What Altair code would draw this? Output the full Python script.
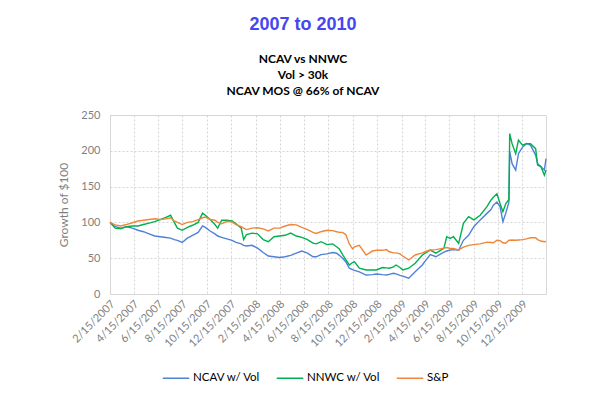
import altair as alt
import pandas as pd

dates = [
    "2007-02-15", "2007-02-28", "2007-03-14", "2007-03-28", "2007-04-12", "2007-04-26",
    "2007-05-10", "2007-05-24", "2007-06-07", "2007-06-21", "2007-07-05", "2007-07-17",
    "2007-07-26", "2007-08-03", "2007-08-15", "2007-08-28", "2007-09-10", "2007-09-24",
    "2007-10-05", "2007-10-12", "2007-10-24", "2007-11-05", "2007-11-12", "2007-11-22",
    "2007-12-05", "2007-12-18", "2007-12-28",
    "2008-01-10", "2008-01-16", "2008-01-23", "2008-02-06", "2008-02-20", "2008-03-05",
    "2008-03-18", "2008-04-01", "2008-04-15", "2008-04-29", "2008-05-13", "2008-05-27",
    "2008-06-10", "2008-06-24", "2008-07-08", "2008-07-16", "2008-07-28", "2008-08-12",
    "2008-08-26", "2008-09-05", "2008-09-12", "2008-09-20", "2008-09-28", "2008-10-07",
    "2008-10-15", "2008-10-20", "2008-11-01", "2008-11-18", "2008-12-04", "2008-12-14",
    "2008-12-29",
    "2009-01-08", "2009-01-15", "2009-01-26", "2009-02-01", "2009-02-11", "2009-02-18",
    "2009-03-05", "2009-03-21", "2009-04-08", "2009-04-15", "2009-04-28", "2009-05-12",
    "2009-06-01", "2009-06-08", "2009-06-17", "2009-06-25", "2009-07-08", "2009-07-20",
    "2009-08-02", "2009-08-15", "2009-08-31", "2009-09-17", "2009-09-27", "2009-10-03",
    "2009-10-12", "2009-10-20", "2009-10-27", "2009-11-03", "2009-11-11", "2009-11-13",
    "2009-11-19", "2009-11-28", "2009-12-05", "2009-12-15", "2009-12-25",
    "2010-01-04", "2010-01-17", "2010-01-22", "2010-01-30", "2010-02-08", "2010-02-12",
]

ncav_vol = [
    100, 94, 92, 94, 92, 89, 87, 84, 81, 80, 79, 78, 76, 75, 72, 78, 82, 86, 95, 93, 88, 84, 81, 79, 77, 75, 72,
    70, 68, 67, 68, 64, 58, 53, 52, 51, 52, 54, 57, 60, 57, 52, 52, 55, 56, 58, 57, 54, 50, 45, 36, 34, 33, 31,
    26.5, 27, 28, 27,
    26.5, 27.5, 29, 28, 26, 25, 22, 31, 40.5, 46, 55, 52, 58.6, 60, 61.4, 62, 61, 75, 82, 94, 103.5, 112.6, 118,
    124, 128.5, 121.8, 101, 112.6, 128, 199, 182, 173, 196, 205, 210,
    208, 194, 182, 178, 173, 189,
]

nnwc_vol = [
    100, 92, 91, 94, 95, 95, 97, 99, 101, 104, 107, 110, 100, 92, 89, 93, 96, 100, 113, 110, 104, 97, 92, 103, 103, 102, 98,
    92, 76, 83, 85, 84, 76, 73, 80, 81, 82, 85, 81, 79, 76, 71, 70, 73, 69, 70, 66, 63, 55, 48, 40.5, 44, 45, 36,
    33.5, 33.5, 33.5, 37,
    36.5, 36, 38, 40.5, 37, 33.5, 36, 43, 54.5, 57, 61.4, 57, 63.7, 80, 77.7, 80, 70.8, 98.8, 108, 103.5, 110, 122, 131,
    135, 140, 126, 115, 126, 132, 224, 210, 196, 215, 208, 210,
    210, 203, 180, 178, 166, 173,
]

sp = [
    100, 96.5, 95, 97, 99.5, 102, 103, 104, 105, 104, 105, 106.5, 102, 100, 97, 100, 101, 104, 106.5, 107.5, 104, 103, 100, 98, 101.5, 100.5, 97,
    94, 92, 90, 92, 92.5, 91, 88, 92, 92, 95, 97, 96.5, 93, 90, 86, 84.5, 87, 89, 88.5, 87, 86, 86, 83, 70, 63, 66, 68,
    54.5, 60, 61, 61,
    62, 59, 57.5, 57.5, 56, 53, 47.5, 54.5, 57.5, 59, 61.5, 62, 64, 65, 63.5, 63.5, 61.5, 65.5, 68, 69, 70, 72.5, 72,
    71.5, 75, 74.5, 71.5, 71, 75, 75, 75.5, 75, 75.5, 76, 77,
    78.5, 78.5, 76, 74, 73, 73.5,
]

series_names = ["NCAV w/ Vol", "NNWC w/ Vol", "S&P"]
series_colors = ["#4F81D6", "#00B050", "#F0863A"]

tick_dates = [
    "2007-02-15", "2007-04-15", "2007-06-15", "2007-08-15", "2007-10-15", "2007-12-15",
    "2008-02-15", "2008-04-15", "2008-06-15", "2008-08-15", "2008-10-15", "2008-12-15",
    "2009-02-15", "2009-04-15", "2009-06-15", "2009-08-15", "2009-10-15", "2009-12-15",
]
x_domain = ["2007-02-15", "2010-02-12"]
y_ticks = [0, 50, 100, 150, 200, 250]


def dt(s):
    y, m, d = (int(p) for p in s.split("-"))
    return alt.DateTime(year=y, month=m, date=d)


rows = []
for name, vals in zip(series_names, [ncav_vol, nnwc_vol, sp]):
    for d, v in zip(dates, vals):
        rows.append({"date": pd.Timestamp(d), "value": v, "series": name})
df = pd.DataFrame(rows)

chart = alt.Chart(df).mark_line(strokeWidth=1.4).encode(
    x=alt.X(
        "date:T",
        title=None,
        scale=alt.Scale(domain=[dt(s) for s in x_domain], nice=False),
        axis=alt.Axis(
            values=[dt(s) for s in tick_dates],
            format="%-m/%d/%Y",
            labelAngle=-45,
            labelAlign="right",
            labelBaseline="middle",
            labelPadding=8,
            labelOffset=3,
            labelFont="Lato",
            labelFontSize=11,
            labelColor="#7f7f7f",
            ticks=False,
            domain=False,
            grid=True,
            gridDash=[2, 2],
            gridColor="#d4d4d4",
            labelOverlap=False,
        ),
    ),
    y=alt.Y(
        "value:Q",
        title="Growth of $100",
        scale=alt.Scale(domain=[0, 250], nice=False),
        axis=alt.Axis(
            values=y_ticks,
            labelFont="Lato",
            labelFontSize=11,
            labelColor="#7f7f7f",
            labelPadding=10,
            titleFont="Lato",
            titleFontSize=12,
            titleFontWeight="normal",
            titleColor="#7f7f7f",
            titlePadding=10,
            ticks=False,
            domain=False,
            grid=True,
            gridDash=[2, 2],
            gridColor="#d4d4d4",
        ),
    ),
    color=alt.Color(
        "series:N",
        scale=alt.Scale(domain=series_names, range=series_colors),
        legend=alt.Legend(
            title=None,
            orient="none",
            legendX=52,
            legendY=249,
            direction="horizontal",
            symbolType="stroke",
            symbolSize=700,
            symbolStrokeWidth=1.5,
            labelFont="Lato",
            labelFontSize=11.5,
            labelColor="#000000",
            labelOffset=3,
            columnPadding=12,
        ),
    ),
).properties(
    width=436,
    height=179,
    padding={"left": 49, "top": 8, "right": 10, "bottom": 5},
    title=alt.TitleParams(
        "2007 to 2010",
        subtitle=["NCAV vs NNWC", "Vol > 30k", "NCAV MOS @ 66% of NCAV"],
        font="Liberation Sans",
        fontSize=18,
        fontWeight="bold",
        color="#4646F0",
        subtitleFont="Lato",
        subtitleFontSize=12,
        subtitleFontWeight="bold",
        subtitleColor="#000000",
        subtitleLineHeight=16,
        subtitlePadding=20,
        anchor="middle",
        dx=-25,
        offset=12,
    ),
).configure_view(
    stroke="#d9d9d9"
)

chart.save("out.html", embed_options={"renderer": "svg", "actions": False})
